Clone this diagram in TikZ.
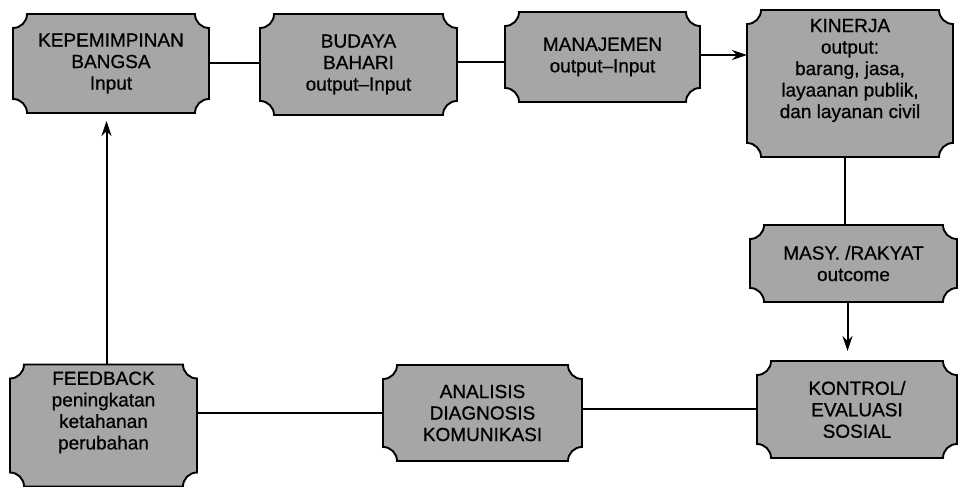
\documentclass[tikz,border=0pt]{standalone}
\usepackage{fontspec}
\setmainfont{Liberation Sans}
\usetikzlibrary{arrows.meta,calc}
\pgfdeclarelayer{background}
\pgfsetlayers{background,main}
\tikzset{
  cbox/.style={inner sep=0pt, outer sep=0pt, align=center,
    font=\fontsize{19}{21.5}\selectfont\addfontfeature{FakeBold=0.7}},
  cboxline/.style={draw=black, line width=1.9pt, fill=black!35, line join=miter},
  conn/.style={draw=black, line width=2pt},
  arr/.style={-{Stealth[length=15pt,width=10pt]}}
}
\newcommand\concavebox[1]{%
  \path[cboxline] let \p1=(#1.south west), \p2=(#1.north east) in
    ({\x1+14pt},{\y2}) -- ({\x2-14pt},{\y2})
    arc[start angle=180,end angle=270,radius=14pt]
    -- ({\x2},{\y1+14pt})
    arc[start angle=90,end angle=180,radius=14pt]
    -- ({\x1+14pt},{\y1})
    arc[start angle=0,end angle=90,radius=14pt]
    -- ({\x1},{\y2-14pt})
    arc[start angle=270,end angle=360,radius=14pt]
    -- cycle;}
\begin{document}
\begin{tikzpicture}[x=1pt,y=1pt]
\useasboundingbox (0,0) rectangle (961,487);
\node[cbox, minimum width=196pt, minimum height=99pt] (kep) at (111,423.5)
  {KEPEMIMPINAN\\BANGSA\\Input};
\node[cbox, minimum width=197pt, minimum height=101pt] (bud) at (358.5,422.5)
  {BUDAYA\\BAHARI\\output--Input};
\node[cbox, minimum width=195pt, minimum height=90pt] (man) at (602.5,430)
  {MANAJEMEN\\output--Input};
\node[cbox, minimum width=206pt, minimum height=147pt] (kin) at (850,403.5)
  {KINERJA\\output:\\barang, jasa,\\layaanan publik,\\dan layanan civil\rule[-30pt]{0pt}{30pt}};
\node[cbox, minimum width=207pt, minimum height=77pt] (masy) at (853.5,223.5)
  {MASY. /RAKYAT\\outcome};
\node[cbox, minimum width=200pt, minimum height=97pt] (kon) at (857,77.5)
  {KONTROL/\\EVALUASI\\SOSIAL};
\node[cbox, minimum width=199pt, minimum height=96pt] (ana) at (482.5,74)
  {ANALISIS\\DIAGNOSIS\\KOMUNIKASI};
\node[cbox, minimum width=187pt, minimum height=122pt] (feed) at (103.5,61.5)
  {FEEDBACK\\peningkatan\\ketahanan\\perubahan\rule[-30pt]{0pt}{30pt}};
\begin{pgfonlayer}{background}
  \concavebox{kep}
  \concavebox{bud}
  \concavebox{man}
  \concavebox{kin}
  \concavebox{masy}
  \concavebox{kon}
  \concavebox{ana}
  \concavebox{feed}
\end{pgfonlayer}
\draw[conn] (kep.east) -- (bud.west |- kep.east);
\draw[conn] ([yshift=2pt]bud.east) -- ([yshift=2pt]man.west |- bud.east);
\draw[conn,arr] ([yshift=2pt]man.east) -- ([yshift=2pt]kin.west |- man.east);
\draw[conn] ([xshift=-5pt]kin.south) -- ([xshift=-5pt]masy.north -| kin.south);
\draw[conn,arr,shorten >=10pt] ([xshift=-6pt]masy.south) -- ([xshift=-6pt]kon.north -| masy.south);
\draw[conn] (kon.west) -- (ana.east |- kon.west);
\draw[conn] (ana.west) -- (feed.east |- ana.west);
\draw[conn,arr,shorten >=8pt] ([xshift=3pt]feed.north) -- ([xshift=3pt]kep.south -| feed.north);
\end{tikzpicture}
\end{document}
